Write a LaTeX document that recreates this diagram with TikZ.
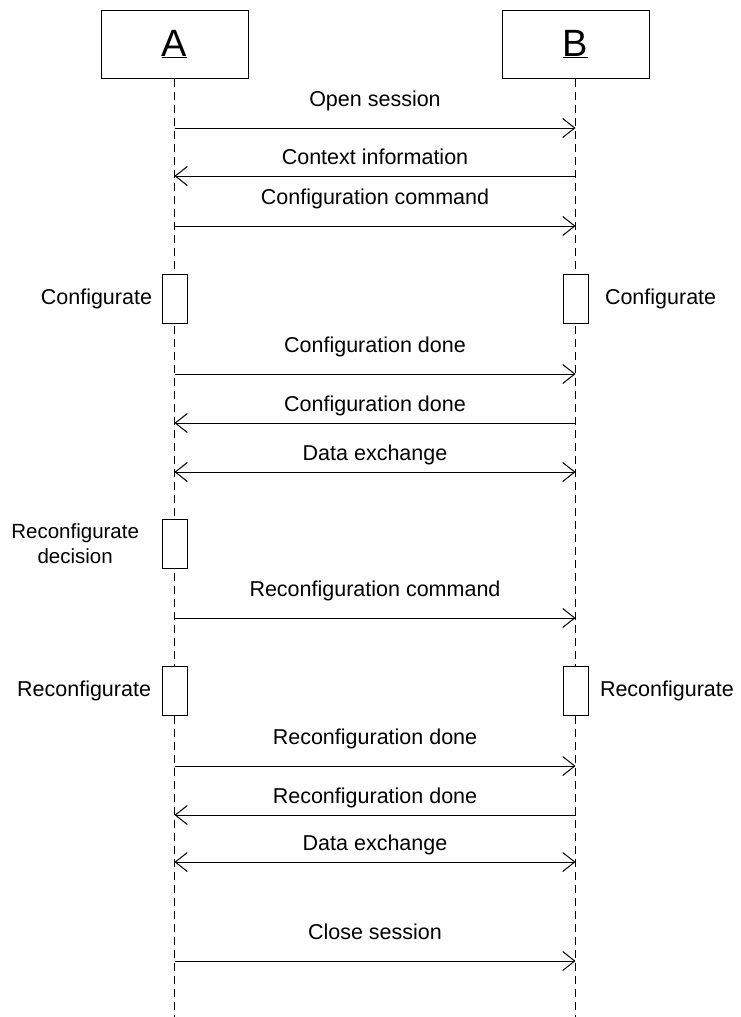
\documentclass[tikz,border=0pt]{standalone}
\usepackage{fontspec}
\setmainfont{Liberation Sans}
\usetikzlibrary{arrows.meta,positioning}
\tikzset{actor/.style={draw, minimum width=147pt, minimum height=68pt,
         inner sep=0pt, font=\fontsize{38}{40}\selectfont},
         life/.style={dash pattern=on 8pt off 5pt},
         barb/.style={Straight Barb[length=12pt,width=19pt]},
         rmsg/.style={-{Straight Barb[length=12pt,width=19pt]}},
         lmsg/.style={{Straight Barb[length=12pt,width=19pt]}-},
         bmsg/.style={{Straight Barb[length=12pt,width=19pt]}-{Straight Barb[length=12pt,width=19pt]}},
         act/.style={draw, fill=white, minimum width=25pt, minimum height=49pt, inner sep=0pt},
         lbl/.style={font=\fontsize{21.5}{25}\selectfont, inner sep=0pt}}

\begin{document}
\begin{tikzpicture}[x=1pt, y=-1pt, line width=1pt]
  \useasboundingbox (0,0) rectangle (740,1017);
  \node[actor] (A) at (174.5,44) {\underline{A}};
  \node[actor] (B) at (575.5,44) {\underline{B}};
  \coordinate (Aend) at (174.5,1017);
  \coordinate (Bend) at (575.5,1017);
  \draw[life] (A.south) -- (Aend);
  \draw[life] (B.south) -- (Bend);
  \node[act] (confA) at (A |- 0,298.5) {};
  \node[act] (confB) at (B |- 0,298.5) {};
  \node[act] (decA) at (A |- 0,543.5) {};
  \node[act] (reconfA) at (A |- 0,690.5) {};
  \node[act] (reconfB) at (B |- 0,690.5) {};
  \node[lbl, left=9pt of confA] (confAlbl) {Configurate};
  \node[lbl, right=16pt of confB] (confBlbl) {Configurate};
  \node[lbl, left=22pt of decA, align=center, font=\fontsize{20.5}{25}\selectfont] (decAlbl) {Reconfigurate\\decision};
  \node[lbl, left=10pt of reconfA] (reconfAlbl) {Reconfigurate};
  \node[lbl, right=11pt of reconfB] (reconfBlbl) {Reconfigurate};
  \foreach \ys/\mstyle/\off/\txt [count=\i] in {128/rmsg/22/Open session,
      176/lmsg/12/Context information, 226/rmsg/22/Configuration command,
      374/rmsg/22/Configuration done, 423/lmsg/12/Configuration done,
      472/bmsg/12/Data exchange, 618/rmsg/22/Reconfiguration command,
      766/rmsg/22/Reconfiguration done, 815/lmsg/12/Reconfiguration done,
      862/bmsg/12/Data exchange, 961/rmsg/22/Close session} {
    \coordinate (m\i) at (375,\ys);
    \draw[\mstyle] (A |- m\i) -- (B |- m\i);
    \node[lbl, anchor=base] (t\i) at ([yshift=\off pt]m\i) {\txt};
  }
\end{tikzpicture}
\end{document}
